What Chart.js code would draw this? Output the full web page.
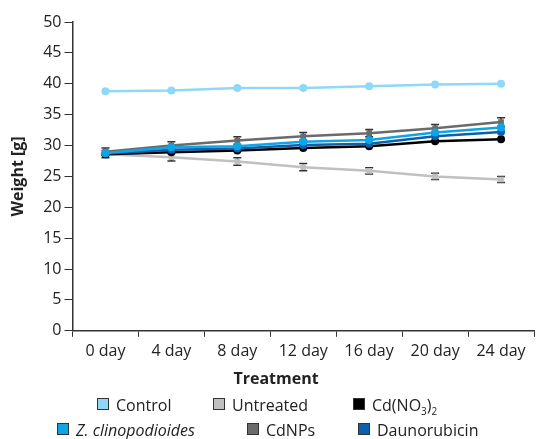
<!DOCTYPE html>
<html>
<head>
<meta charset="utf-8">
<script src="https://cdn.jsdelivr.net/npm/chart.js@4"></script>
<style>
    body { margin: 0; background: #fff; }
    #wrap { position: relative; width: 538px; height: 439px; font-family: "Open Sans", sans-serif; color: #222; }
    .key { position: absolute; font-size: 16px; line-height: 18px; white-space: nowrap; }
    .key i.box { display: inline-block; width: 10px; height: 10px; border: 1px solid #333; margin-right: 7px; vertical-align: 1px; }
    #xTitle { position: absolute; left: 0; width: 552px; top: 368px; text-align: center; font-size: 16px; line-height: 20px; font-weight: bold; }
    sub { font-size: 10px; }
</style>
</head>
<body>
<div id="wrap">
    <canvas id="weightChart" width="538" height="439"></canvas>
    <div id="xTitle">Treatment</div>
    <div class="key" style="left:97px; top:396px;"><i class="box" style="background:#8fd8f8"></i>Control</div>
    <div class="key" style="left:213px; top:396px;"><i class="box" style="background:#c0c0c0"></i>Untreated</div>
    <div class="key" style="left:353px; top:396px;"><i class="box" style="background:#000"></i>Cd(NO<sub>3</sub>)<sub>2</sub></div>
    <div class="key" style="left:57px; top:421px;"><i class="box" style="background:#0ea5e6"></i><em>Z. clinopodioides</em></div>
    <div class="key" style="left:247px; top:421px;"><i class="box" style="background:#6b6b6b"></i>CdNPs</div>
    <div class="key" style="left:358px; top:421px;"><i class="box" style="background:#0a62ac"></i>Daunorubicin</div>
</div>
<script>
console.log("Weight chart script loaded");

// Categories and series
const days = ["0 day", "4 day", "8 day", "12 day", "16 day", "20 day", "24 day"];

const control = [38.8, 38.9, 39.3, 39.3, 39.6, 39.9, 40.0];
const untreated = [28.6, 28.1, 27.4, 26.5, 25.9, 25.0, 24.5];
const cdNitrate = [28.6, 28.9, 29.2, 29.6, 29.9, 30.7, 31.0];
const zClino = [28.8, 29.7, 29.9, 30.6, 30.9, 32.1, 32.9];
const cdNPs = [29.0, 30.0, 30.8, 31.5, 32.0, 32.8, 33.8];
const dauno = [28.7, 29.3, 29.5, 30.1, 30.3, 31.5, 32.2];

// standard deviations (only visible on the grey series)
const untreatedErr = [0.6, 0.6, 0.6, 0.6, 0.5, 0.5, 0.5];
const cdNPsErr = [0.6, 0.6, 0.6, 0.6, 0.6, 0.6, 0.7];

const yTicks = [0, 5, 10, 15, 20, 25, 30, 35, 40, 45, 50];

// Draws error bars through the chart's own scales
const errorBars = {
    id: "errorBars",
    beforeDatasetsDraw(chart) {
        const ctx = chart.ctx;
        const y = chart.scales.y;
        chart.data.datasets.forEach((ds, i) => {
            if (!ds.errors) return;
            const meta = chart.getDatasetMeta(i);
            ctx.save();
            ctx.strokeStyle = "#333";
            ctx.lineWidth = 1.5;
            meta.data.forEach((pt, j) => {
                const top = y.getPixelForValue(ds.data[j] + ds.errors[j]);
                const bot = y.getPixelForValue(ds.data[j] - ds.errors[j]);
                ctx.beginPath();
                ctx.moveTo(pt.x, top); ctx.lineTo(pt.x, bot);
                ctx.moveTo(pt.x - 4, top); ctx.lineTo(pt.x + 4, top);
                ctx.moveTo(pt.x - 4, bot); ctx.lineTo(pt.x + 4, bot);
                ctx.stroke();
            });
            ctx.restore();
        });
    }
};

function series(label, data, color, style, order, errors) {
    return {
        label: label,
        data: data,
        errors: errors,
        borderColor: color,
        backgroundColor: color,
        borderWidth: 2.5,
        pointStyle: style,
        pointRadius: 4,
        pointBorderWidth: 0,
        tension: 0,
        order: order
    };
}

const ctx = document.getElementById("weightChart").getContext("2d");
new Chart(ctx, {
    type: "line",
    data: {
        labels: days,
        datasets: [
            series("Control", control, "#8fd8f8", "circle", 5),
            series("Untreated", untreated, "#c0c0c0", "rect", 4, untreatedErr),
            series("Cd(NO3)2", cdNitrate, "#000000", "circle", 3),
            series("CdNPs", cdNPs, "#6b6b6b", "rect", 2, cdNPsErr),
            series("Daunorubicin", dauno, "#0a62ac", "circle", 1),
            series("Z. clinopodioides", zClino, "#0ea5e6", "circle", 0)
        ]
    },
    options: {
        responsive: false,
        animation: false,
        layout: { padding: { top: 22, right: 0, bottom: 73, left: 5 } },
        plugins: {
            legend: { display: false },
            tooltip: { enabled: false }
        },
        scales: {
            x: {
                offset: true,
                grid: { display: true, offset: true, drawOnChartArea: false, tickLength: 6, color: "#333", lineWidth: 1 },
                border: { color: "#333", width: 1.5 },
                ticks: { color: "#222", font: { family: "Open Sans", size: 16 }, maxRotation: 0, padding: 5 }
            },
            y: {
                min: 0,
                max: 50,
                afterBuildTicks: axis => { axis.ticks = yTicks.map(v => ({ value: v })); },
                grid: { drawOnChartArea: false, tickLength: 8, color: "#333" },
                border: { color: "#333", width: 1.5 },
                ticks: { color: "#222", font: { family: "Open Sans", size: 16 }, padding: 3 },
                title: { display: true, text: "Weight [g]", color: "#222", font: { family: "Open Sans", size: 16, weight: "bold" }, padding: { bottom: 12 } }
            }
        }
    },
    plugins: [errorBars]
});
</script>
</body>
</html>
